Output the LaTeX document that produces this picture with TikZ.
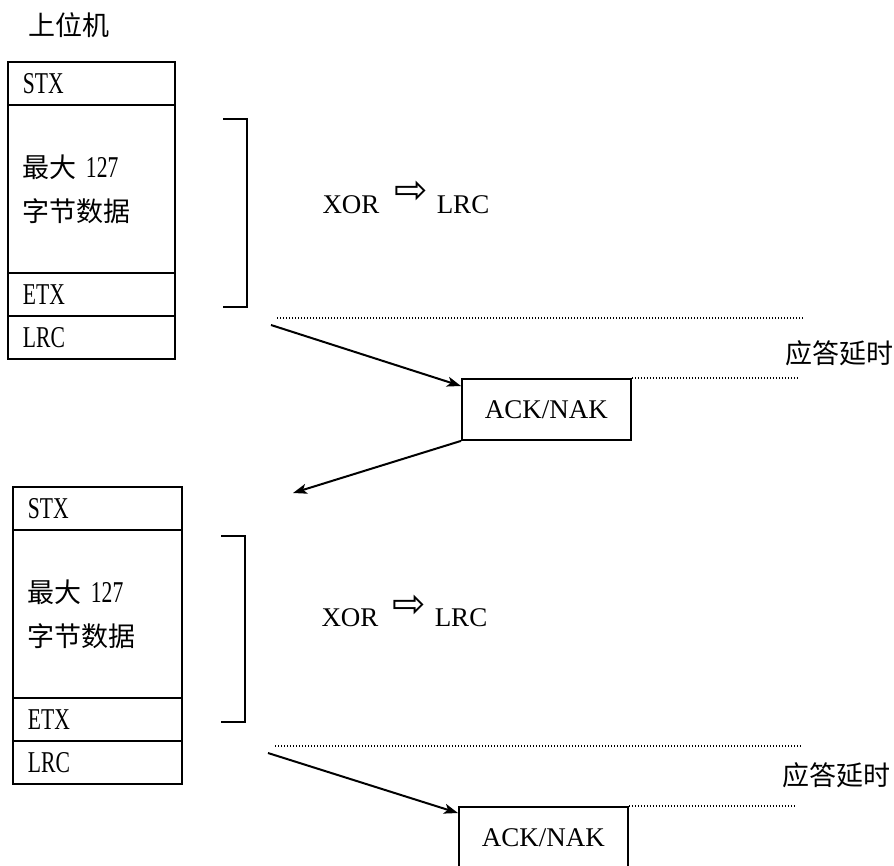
\documentclass[tikz,border=0pt]{standalone}
\usepackage{fontspec}
\setmainfont{Liberation Serif}
\newfontfamily\cjk{Noto Sans CJK SC}
\newfontfamily\symf{DejaVu Sans}
\usetikzlibrary{arrows.meta}
\newcommand\nrw[1]{{\rmfamily\scalebox{0.8}[1.12]{#1}}}
\begin{document}
\begin{tikzpicture}[x=1pt,y=-1pt,
  cell/.style={draw,line width=1.9pt,anchor=north west,inner xsep=15pt,inner ysep=0pt,text width=#1,align=left,font=\cjk\fontsize{27}{44}\selectfont},
  cjkt/.style={font=\cjk\fontsize{27}{27}\selectfont,inner sep=0},
  lat/.style={font=\fontsize{27}{27}\selectfont,inner sep=0},
  brk/.style={line width=1.5pt},
  dots/.style={line width=1.2pt,dash pattern=on 1.2pt off 1.8pt},
  conn/.style={line width=2pt,-{Stealth[length=14pt,width=10pt,inset=3.5pt]}},
  ackbox/.style={draw,line width=1.9pt,minimum width=169pt,minimum height=61pt,anchor=north west,font=\fontsize{27}{27}\selectfont,inner sep=0}]
\useasboundingbox (0,0) rectangle (894,865);

% ---------- upper section ----------
\node[cjkt] (host) at (69,25) {上位机};
\node[cell=137pt,minimum height=43pt] (stxA) at (7,61) {\nrw{STX}};
\node[cell=137pt,minimum height=168pt] (datA) at (7,104) {最大 \nrw{127}\\字节数据};
\node[cell=137pt,minimum height=43pt] (etxA) at (7,272) {\nrw{ETX}};
\node[cell=137pt,minimum height=43pt] (lrcA) at (7,315) {\nrw{LRC}};

\coordinate (bA1) at (223,119);
\coordinate (bA2) at (247,119);
\coordinate (bA3) at (247,307);
\coordinate (bA4) at (223,307);
\draw[brk] (bA1) -- (bA2) -- (bA3) -- (bA4);

\node[lat] (xorA) at (351,205) {XOR};
\node[font=\symf\fontsize{40}{40}\selectfont,inner sep=0] (imA) at (411,192) {⇨};
\node[lat] (lrcTA) at (463,205) {LRC};

\coordinate (dA1) at (277,318);
\coordinate (dA2) at (803,318);
\draw[dots] (dA1) -- (dA2);

\node[ackbox] (ackA) at (461,378) {ACK/NAK};
\coordinate (dA3) at (797,378);
\draw[dots] (ackA.north east) -- (dA3);
\node[cjkt] (delA) at (839,353) {应答延时};

\coordinate (sA) at (271,325);
\draw[conn] (sA) -- ([yshift=-8pt]ackA.north west);
\coordinate (eA) at (293,493);
\draw[conn] (ackA.south west) -- (eA);

% ---------- lower section ----------
\node[cell=139pt,minimum height=43pt] (stxB) at (12,486) {\nrw{STX}};
\node[cell=139pt,minimum height=168pt] (datB) at (12,529) {最大 \nrw{127}\\字节数据};
\node[cell=139pt,minimum height=43pt] (etxB) at (12,697) {\nrw{ETX}};
\node[cell=139pt,minimum height=43pt] (lrcB) at (12,740) {\nrw{LRC}};

\coordinate (bB1) at (221,536);
\coordinate (bB2) at (245,536);
\coordinate (bB3) at (245,722);
\coordinate (bB4) at (221,722);
\draw[brk] (bB1) -- (bB2) -- (bB3) -- (bB4);

\node[lat] (xorB) at (350,618) {XOR};
\node[font=\symf\fontsize{40}{40}\selectfont,inner sep=0] (imB) at (409,606) {⇨};
\node[lat] (lrcTB) at (461,618) {LRC};

\coordinate (dB1) at (275,746);
\coordinate (dB2) at (802,746);
\draw[dots] (dB1) -- (dB2);

\node[ackbox] (ackB) at (458,806) {ACK/NAK};
\coordinate (dB3) at (796,806);
\draw[dots] (ackB.north east) -- (dB3);
\node[cjkt] (delB) at (836,775) {应答延时};

\coordinate (sB) at (268,753);
\draw[conn] (sB) -- ([yshift=-7pt]ackB.north west);
\end{tikzpicture}
\end{document}
